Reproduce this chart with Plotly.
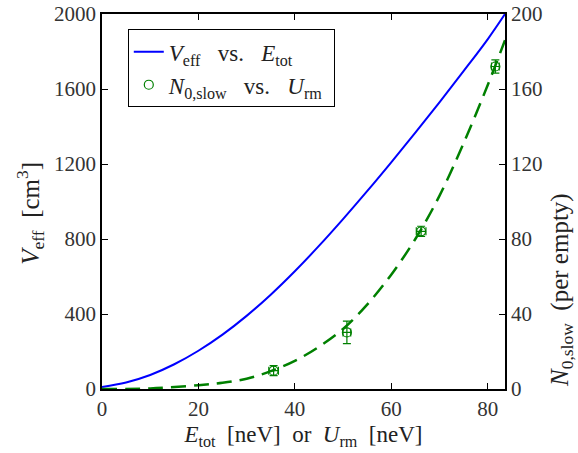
import plotly.graph_objects as go

# Blue curve: V_eff vs E_tot
e_tot = [0, 5, 10, 15, 20, 25, 30, 35, 40, 45, 50, 55, 60, 65, 70, 75, 80, 83.6]
v_eff = [11, 35, 75, 132, 204, 290, 390, 503, 628, 763, 906, 1055, 1209, 1367, 1529, 1695, 1865, 2000]

# Green dashed curve: N_0,slow model vs U_rm
u_fit = [0, 10, 20, 25, 30, 35, 40, 45, 50, 55, 60, 65, 70, 75, 80, 83.6]
n_fit = [0, 0.3, 2, 3.3, 5.5, 9.5, 15, 22.5, 32, 45, 61, 80, 103, 131, 162, 186]

# Measured points
u_rm = [35.6, 50.8, 66.2, 81.6]
n_slow = [9.8, 30.2, 84.1, 172]
n_err = [2.7, 6, 2.7, 3.5]
u_err = [1.0, 0.8, 1.0, 0.8]

FONT = "'Liberation Serif', 'Times New Roman', serif"
GREEN = "#008000"

fig = go.Figure()
fig.add_trace(go.Scatter(
    x=e_tot, y=v_eff, mode="lines", line=dict(color="#0000ff", width=2, shape="spline"),
    name="<i>V</i><sub>eff</sub>&nbsp;&nbsp;&nbsp;vs.&nbsp;&nbsp;&nbsp;<i>E</i><sub>tot</sub>", yaxis="y"))
fig.add_trace(go.Scatter(
    x=u_rm, y=n_slow, mode="markers",
    marker=dict(symbol="circle-open", size=9, color=GREEN, line=dict(width=1.2, color=GREEN)),
    error_y=dict(type="data", array=n_err, color=GREEN, thickness=1.2, width=4),
    error_x=dict(type="data", array=u_err, color=GREEN, thickness=1.2, width=4),
    name="<i>N</i><sub>0,slow</sub>&nbsp;&nbsp;&nbsp;vs.&nbsp;&nbsp;&nbsp;<i>U</i><sub>rm</sub>&nbsp;", yaxis="y2"))
fig.add_trace(go.Scatter(
    x=u_fit, y=n_fit, mode="lines", line=dict(color=GREEN, width=2.5, dash="15px,8px", shape="spline"),
    showlegend=False, yaxis="y2"))

axis_common = dict(showline=True, linecolor="black", linewidth=1.5, ticks="inside",
                   ticklen=6, tickcolor="black", tickwidth=1, showgrid=False, zeroline=False,
                   automargin=False, tickfont=dict(family=FONT, size=21, color="#333"))

fig.update_layout(
    width=578, height=453,
    margin=dict(l=102, r=73, t=14, b=64),
    paper_bgcolor="white", plot_bgcolor="white",
    font=dict(family=FONT, size=21, color="#222"),
    xaxis=dict(range=[0, 83.6], tickvals=[0, 20, 40, 60, 80], mirror="ticks",
               title=dict(text="<i>E</i><sub>tot</sub>  [neV]  or  <i>U</i><sub>rm</sub>  [neV]",
                          font=dict(family=FONT, size=23), standoff=6),
               **axis_common),
    yaxis=dict(range=[0, 2000], tickvals=[0, 400, 800, 1200, 1600, 2000], **axis_common),
    yaxis2=dict(range=[0, 200], tickvals=[0, 40, 80, 120, 160, 200], overlaying="y", side="right",
                **axis_common),
    annotations=[
        dict(text="<i>V</i><sub>eff</sub>  [cm<sup>3</sup>]", xref="paper", yref="paper",
             x=-0.1787, y=0.47, xanchor="center", yanchor="middle", textangle=-90,
             showarrow=False, font=dict(family=FONT, size=25, color="#222")),
        dict(text="<i>N</i><sub>0,slow</sub>  (per empty)", xref="paper", yref="paper",
             x=1.139, y=0.264, xanchor="center", yanchor="middle", textangle=-90,
             showarrow=False, font=dict(family=FONT, size=25, color="#222")),
    ],
    legend=dict(x=0.064, y=0.959, xanchor="left", yanchor="top", bordercolor="black", borderwidth=1,
                bgcolor="white", font=dict(family=FONT, size=23, color="#222"),
                tracegroupgap=0, itemwidth=30),
    showlegend=True,
)

fig.write_html("out.html")
